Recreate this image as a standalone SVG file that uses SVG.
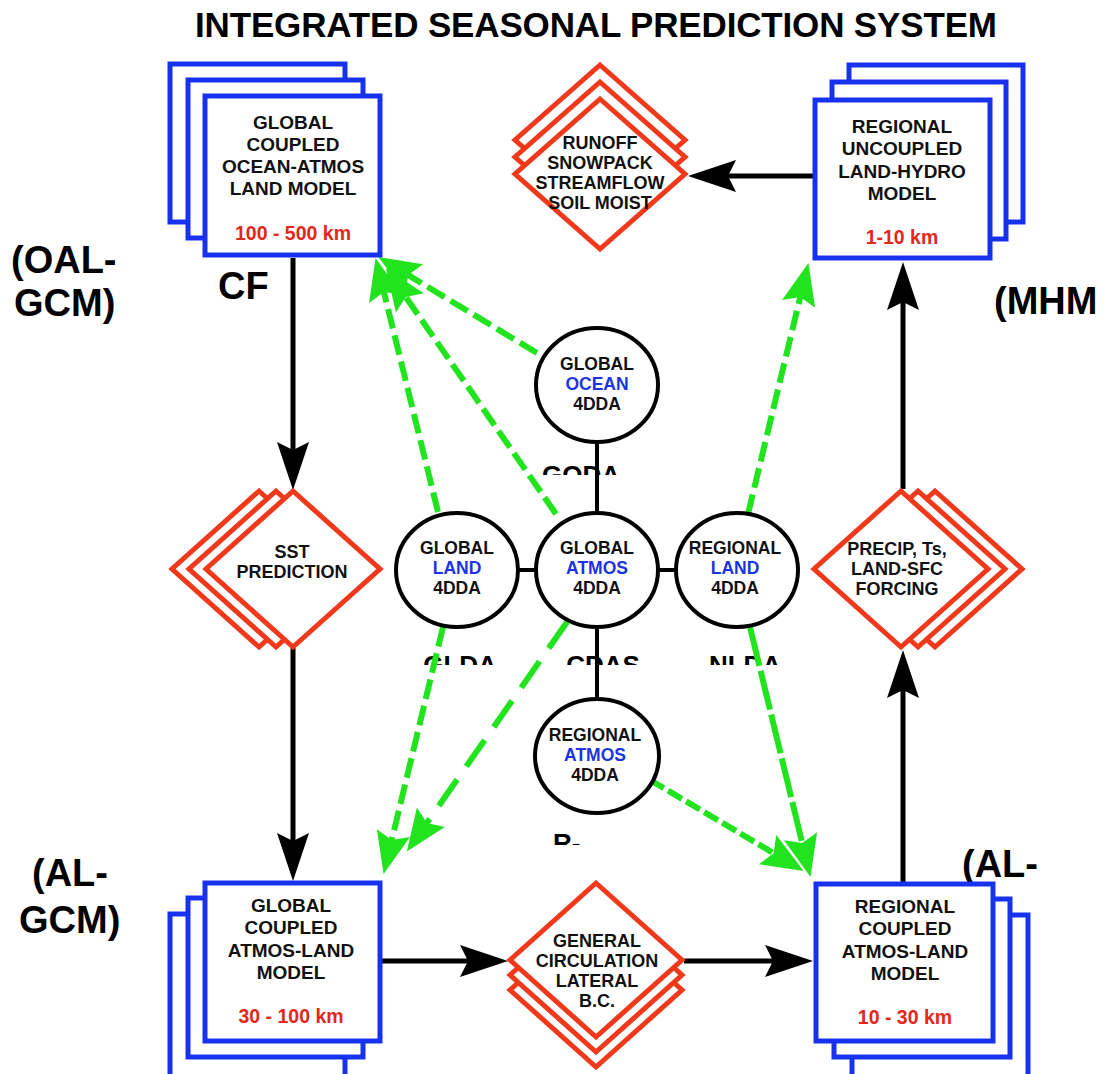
<svg xmlns="http://www.w3.org/2000/svg" width="1107" height="1074" viewBox="0 0 1107 1074">
<style>
.box{fill:#fff;stroke:#1632ee;stroke-width:5}
.dia{fill:#fff;stroke:#f0391b;stroke-width:5}
.circ{fill:#fff;stroke:#000;stroke-width:4}
.t{font-family:"Liberation Sans",Arial,sans-serif;font-weight:bold;font-size:19px;text-anchor:middle;fill:#111}
.d{font-size:18px}
.c{font-size:17.5px}
.km{fill:#e2281a;font-size:19.5px}
.blue{fill:#1a34e0}
.big{font-family:"Liberation Sans",Arial,sans-serif;font-weight:bold;font-size:38px;fill:#000}
.title{font-family:"Liberation Sans Narrow","Liberation Sans",Arial,sans-serif;font-weight:bold;font-size:35px;fill:#000}
.part{font-family:"Liberation Sans",Arial,sans-serif;font-weight:bold;font-size:26px;fill:#000}
.lnk{stroke:#000;stroke-width:5;fill:none}
.bar{stroke:#000;stroke-width:4;fill:none}
.g{stroke:#22e41e;stroke-width:6;fill:none;stroke-dasharray:20 7}
</style>
<defs>
<marker id="ab" markerUnits="userSpaceOnUse" markerWidth="60" markerHeight="40" viewBox="-20 -20 60 40" refX="0" refY="0" orient="auto" overflow="visible"><path d="M34,0 L-14,-16 L-6,0 L-14,16 Z" fill="#000"/></marker>
<marker id="ag" markerUnits="userSpaceOnUse" markerWidth="50" markerHeight="40" viewBox="-20 -20 50 40" refX="0" refY="0" orient="auto" overflow="visible"><path d="M30,0 L-12,-17 L-5,0 L-12,17 Z" fill="#22e41e"/></marker>
<clipPath id="cpGODA"><rect x="500" y="440" width="160" height="35"/></clipPath>
<clipPath id="cpLow"><rect x="400" y="630" width="420" height="35"/></clipPath>
<clipPath id="cpR"><rect x="540" y="810" width="60" height="35"/></clipPath>
</defs>
<rect width="1107" height="1074" fill="#fff"/>

<text class="title" x="195" y="37" textLength="802" lengthAdjust="spacing">INTEGRATED SEASONAL PREDICTION SYSTEM</text>

<g id="side-labels">
<text class="big" x="11" y="273">(OAL-</text>
<text class="big" x="14" y="316">GCM)</text>
<text class="big" x="218" y="299">CF</text>
<text class="big" x="994" y="314">(MHM</text>
<text class="big" x="32" y="886">(AL-</text>
<text class="big" x="19" y="933">GCM)</text>
<text class="big" x="962" y="877">(AL-</text>
</g>

<g id="da-labels">
<text class="part" x="581" y="484" text-anchor="middle" clip-path="url(#cpGODA)">GODA</text>
<text class="part" x="460" y="674" text-anchor="middle" clip-path="url(#cpLow)">GLDA</text>
<text class="part" x="603" y="674" text-anchor="middle" clip-path="url(#cpLow)">CDAS</text>
<text class="part" x="745" y="674" text-anchor="middle" clip-path="url(#cpLow)">NLDA</text>
<text class="part" x="553" y="852" clip-path="url(#cpR)">R-</text>
</g>

<g id="connectors">
<line class="bar" x1="597" y1="442" x2="597" y2="513"/>
<line class="bar" x1="597" y1="627" x2="597" y2="699"/>
<line class="bar" x1="519" y1="570" x2="536" y2="570"/>
<line class="bar" x1="657" y1="570" x2="676" y2="570"/>
<line class="lnk" x1="293" y1="258" x2="293" y2="456" marker-end="url(#ab)"/>
<line class="lnk" x1="293" y1="648" x2="293" y2="847" marker-end="url(#ab)"/>
<line class="lnk" x1="382" y1="961" x2="474" y2="961" marker-end="url(#ab)"/>
<line class="lnk" x1="684" y1="961" x2="779" y2="961" marker-end="url(#ab)"/>
<line class="lnk" x1="903" y1="882" x2="903" y2="684" marker-end="url(#ab)"/>
<line class="lnk" x1="903" y1="489" x2="903" y2="296" marker-end="url(#ab)"/>
<line class="lnk" x1="813" y1="176" x2="722" y2="176" marker-end="url(#ab)"/>
<line class="g" x1="537" y1="353" x2="404" y2="272.5" marker-end="url(#ag)"/>
<line class="g" x1="556" y1="514" x2="403" y2="293" marker-end="url(#ag)"/>
<line class="g" x1="438" y1="512" x2="382.7" y2="287.2" marker-end="url(#ag)"/>
<line class="g" x1="748" y1="514" x2="801.4" y2="292.2" marker-end="url(#ag)"/>
<line class="g" x1="443" y1="627" x2="390.6" y2="844.8" marker-end="url(#ag)"/>
<line class="g" x1="567" y1="622" x2="424" y2="827" marker-end="url(#ag)" style="stroke-dasharray:32 16"/>
<line class="g" x1="750" y1="627" x2="803.4" y2="847.8" marker-end="url(#ag)" style="stroke-dasharray:40 5"/>
<line class="g" x1="650" y1="780" x2="777.9" y2="855.7" marker-end="url(#ag)" style="stroke-dasharray:16 5"/>
</g>

<g id="global-coupled-oal">
<rect class="box" x="170" y="64" width="175" height="158"/>
<rect class="box" x="188" y="80" width="175" height="158"/>
<rect class="box" x="205" y="96" width="175" height="159"/>
<text class="t" x="293" y="129">GLOBAL</text>
<text class="t" x="293" y="151">COUPLED</text>
<text class="t" x="293" y="173">OCEAN-ATMOS</text>
<text class="t" x="293" y="195">LAND MODEL</text>
<text class="t km" x="293" y="240">100 - 500 km</text>
</g>

<g id="regional-uncoupled">
<rect class="box" x="849" y="65" width="174" height="157"/>
<rect class="box" x="832" y="82" width="174" height="157"/>
<rect class="box" x="815" y="100" width="175" height="158"/>
<text class="t" x="902" y="133">REGIONAL</text>
<text class="t" x="902" y="155">UNCOUPLED</text>
<text class="t" x="902" y="178">LAND-HYDRO</text>
<text class="t" x="902" y="200">MODEL</text>
<text class="t km" x="902" y="244">1-10 km</text>
</g>

<g id="global-coupled-al">
<rect class="box" x="170" y="914" width="175" height="170"/>
<rect class="box" x="188" y="898" width="175" height="159"/>
<rect class="box" x="205" y="883" width="175" height="158"/>
<text class="t" x="291" y="912">GLOBAL</text>
<text class="t" x="291" y="934">COUPLED</text>
<text class="t" x="291" y="957">ATMOS-LAND</text>
<text class="t" x="291" y="979">MODEL</text>
<text class="t km" x="291" y="1023">30 - 100 km</text>
</g>

<g id="regional-coupled-al">
<rect class="box" x="852" y="915" width="176" height="170"/>
<rect class="box" x="834" y="899" width="176" height="158"/>
<rect class="box" x="816" y="884" width="177" height="157"/>
<text class="t" x="905" y="913">REGIONAL</text>
<text class="t" x="905" y="935">COUPLED</text>
<text class="t" x="905" y="958">ATMOS-LAND</text>
<text class="t" x="905" y="980">MODEL</text>
<text class="t km" x="905" y="1024">10 - 30 km</text>
</g>

<g id="runoff">
<polygon class="dia" points="600,65 685,140 600,215 515,140"/>
<polygon class="dia" points="600,82 685,157 600,232 515,157"/>
<polygon class="dia" points="600,99 685,174 600,249 515,174"/>
<text class="t d" x="600" y="149">RUNOFF</text>
<text class="t d" x="600" y="169">SNOWPACK</text>
<text class="t d" x="600" y="189">STREAMFLOW</text>
<text class="t d" x="600" y="209">SOIL MOIST</text>
</g>

<g id="sst-prediction">
<polygon class="dia" points="259,491 346,569 259,647 172,569"/>
<polygon class="dia" points="276,491 363,569 276,647 189,569"/>
<polygon class="dia" points="293,491 380,569 293,647 206,569"/>
<text class="t d" x="292" y="558">SST</text>
<text class="t d" x="292" y="578">PREDICTION</text>
</g>

<g id="precip-forcing">
<polygon class="dia" points="935,491 1022,569 935,647 848,569"/>
<polygon class="dia" points="918,491 1005,569 918,647 831,569"/>
<polygon class="dia" points="901,491 988,569 901,647 814,569"/>
<text class="t d" x="897" y="555">PRECIP, Ts,</text>
<text class="t d" x="897" y="575">LAND-SFC</text>
<text class="t d" x="897" y="595">FORCING</text>
</g>

<g id="general-circulation">
<polygon class="dia" points="596,913 682,990 596,1067 510,990"/>
<polygon class="dia" points="596,898 682,975 596,1052 510,975"/>
<polygon class="dia" points="596,883 682,960 596,1037 510,960"/>
<text class="t d" x="597" y="947">GENERAL</text>
<text class="t d" x="597" y="967">CIRCULATION</text>
<text class="t d" x="597" y="987">LATERAL</text>
<text class="t d" x="597" y="1007">B.C.</text>
</g>

<g id="global-ocean-4dda">
<ellipse class="circ" cx="597" cy="385" rx="61" ry="57"/>
<text class="t c" x="597" y="370">GLOBAL</text>
<text class="t c blue" x="597" y="390">OCEAN</text>
<text class="t c" x="597" y="410">4DDA</text>
</g>

<g id="global-land-4dda">
<ellipse class="circ" cx="457" cy="570" rx="61" ry="57"/>
<text class="t c" x="457" y="554">GLOBAL</text>
<text class="t c blue" x="457" y="574">LAND</text>
<text class="t c" x="457" y="594">4DDA</text>
</g>

<g id="global-atmos-4dda">
<ellipse class="circ" cx="597" cy="570" rx="61" ry="57"/>
<text class="t c" x="597" y="554">GLOBAL</text>
<text class="t c blue" x="597" y="574">ATMOS</text>
<text class="t c" x="597" y="594">4DDA</text>
</g>

<g id="regional-land-4dda">
<ellipse class="circ" cx="737" cy="570" rx="61" ry="57"/>
<text class="t c" x="735" y="554">REGIONAL</text>
<text class="t c blue" x="735" y="574">LAND</text>
<text class="t c" x="735" y="594">4DDA</text>
</g>

<g id="regional-atmos-4dda">
<ellipse class="circ" cx="597" cy="756" rx="62" ry="57"/>
<text class="t c" x="595" y="741">REGIONAL</text>
<text class="t c blue" x="595" y="761">ATMOS</text>
<text class="t c" x="595" y="781">4DDA</text>
</g>
</svg>
